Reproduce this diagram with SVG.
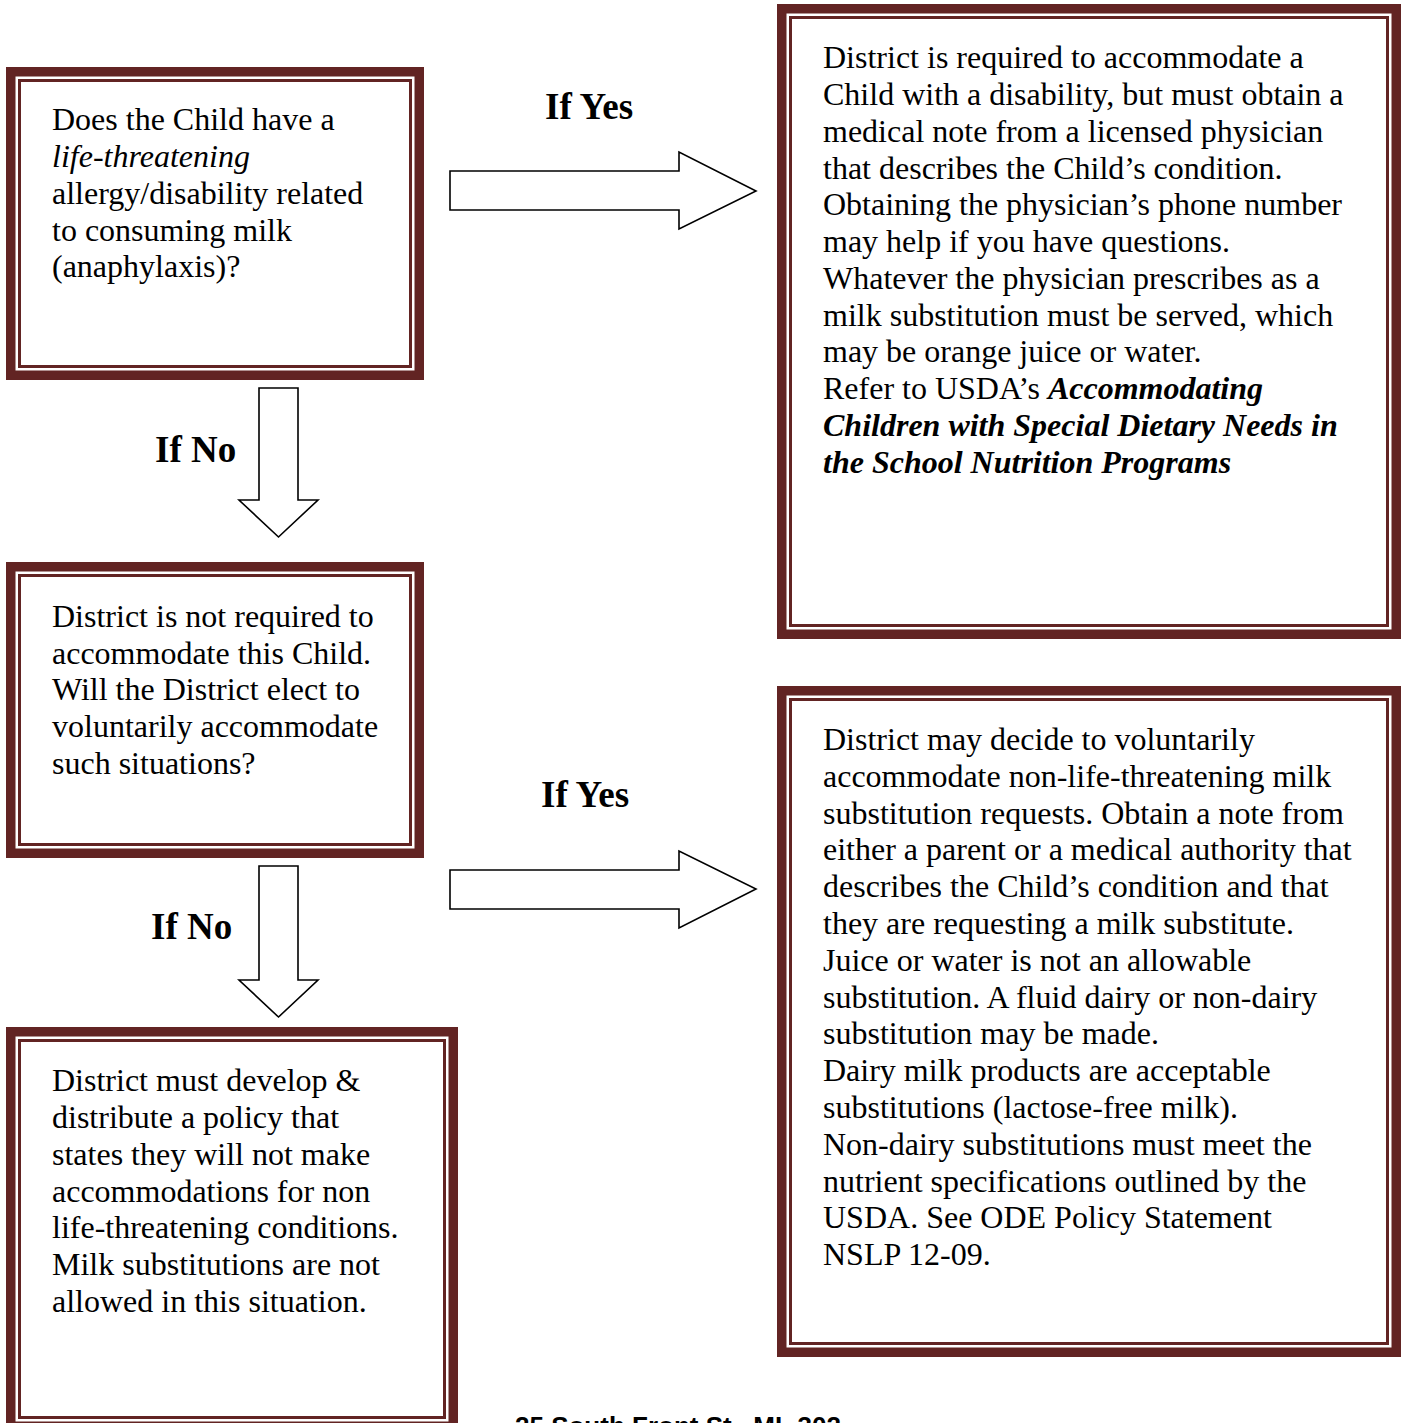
<svg xmlns="http://www.w3.org/2000/svg" width="1403" height="1423" viewBox="0 0 1403 1423">
<style>
.thick{fill:none;stroke:#622423;stroke-width:9.5}
.thin{fill:none;stroke:#622423;stroke-width:3}
.t{font-family:"Liberation Serif","Times New Roman",serif;font-size:32px;fill:#000}
.lbl{font-family:"Liberation Serif","Times New Roman",serif;font-size:37px;font-weight:bold;fill:#000}
.arr{fill:#fff;stroke:#000;stroke-width:1.6;stroke-linejoin:miter}
.bi{font-weight:bold;font-style:italic}
.foot{font-family:"Liberation Sans",Arial,sans-serif;font-size:26px;font-weight:bold;fill:#000}
</style>
<rect width="1403" height="1423" fill="#fff"/>
<g id="connectors">
  <polygon class="arr" points="450,171 679,171 679,152 756,191 679,229 679,210 450,210"/>
  <polygon class="arr" points="450,870 679,870 679,851 756,889 679,928 679,909 450,909"/>
  <polygon class="arr" points="259,388 298,388 298,500 318,500 278.5,537 239,500 259,500"/>
  <polygon class="arr" points="259,866 298,866 298,980 318,980 278.5,1017 239,980 259,980"/>
  <text class="lbl" x="545" y="119">If Yes</text>
  <text class="lbl" x="155" y="462">If No</text>
  <text class="lbl" x="541" y="807">If Yes</text>
  <text class="lbl" x="151" y="939">If No</text>
</g>
<g id="node-question1">
  <rect class="thick" x="10.75" y="71.75" width="408.5" height="303.5"/>
  <rect class="thin" x="19.5" y="80.5" width="391" height="286"/>
  <text class="t" x="52" y="130">Does the Child have a</text>
  <text class="t" x="52" y="167" font-style="italic">life-threatening</text>
  <text class="t" x="52" y="204">allergy/disability related</text>
  <text class="t" x="52" y="241">to consuming milk</text>
  <text class="t" x="52" y="277">(anaphylaxis)?</text>
</g>
<g id="node-required">
  <rect class="thick" x="781.75" y="8.75" width="614.5" height="625.5"/>
  <rect class="thin" x="790.5" y="17.5" width="597" height="608"/>
  <text class="t" x="823" y="68">District is required to accommodate a</text>
  <text class="t" x="823" y="105">Child with a disability, but must obtain a</text>
  <text class="t" x="823" y="142">medical note from a licensed physician</text>
  <text class="t" x="823" y="179">that describes the Child’s condition.</text>
  <text class="t" x="823" y="215">Obtaining the physician’s phone number</text>
  <text class="t" x="823" y="252">may help if you have questions.</text>
  <text class="t" x="823" y="289">Whatever the physician prescribes as a</text>
  <text class="t" x="823" y="326">milk substitution must be served, which</text>
  <text class="t" x="823" y="362">may be orange juice or water.</text>
  <text class="t" x="823" y="399">Refer to USDA’s <tspan class="bi">Accommodating</tspan></text>
  <text class="t bi" x="823" y="436">Children with Special Dietary Needs in</text>
  <text class="t bi" x="823" y="473">the School Nutrition Programs</text>
</g>
<g id="node-question2">
  <rect class="thick" x="10.75" y="566.75" width="408.5" height="286.5"/>
  <rect class="thin" x="19.5" y="575.5" width="391" height="269"/>
  <text class="t" x="52" y="627">District is not required to</text>
  <text class="t" x="52" y="664">accommodate this Child.</text>
  <text class="t" x="52" y="700">Will the District elect to</text>
  <text class="t" x="52" y="737">voluntarily accommodate</text>
  <text class="t" x="52" y="774">such situations?</text>
</g>
<g id="node-voluntary">
  <rect class="thick" x="781.75" y="690.75" width="614.5" height="661.5"/>
  <rect class="thin" x="790.5" y="699.5" width="597" height="644"/>
  <text class="t" x="823" y="750">District may decide to voluntarily</text>
  <text class="t" x="823" y="787">accommodate non-life-threatening milk</text>
  <text class="t" x="823" y="824">substitution requests. Obtain a note from</text>
  <text class="t" x="823" y="860">either a parent or a medical authority that</text>
  <text class="t" x="823" y="897">describes the Child’s condition and that</text>
  <text class="t" x="823" y="934">they are requesting a milk substitute.</text>
  <text class="t" x="823" y="971">Juice or water is not an allowable</text>
  <text class="t" x="823" y="1008">substitution. A fluid dairy or non-dairy</text>
  <text class="t" x="823" y="1044">substitution may be made.</text>
  <text class="t" x="823" y="1081">Dairy milk products are acceptable</text>
  <text class="t" x="823" y="1118">substitutions (lactose-free milk).</text>
  <text class="t" x="823" y="1155">Non-dairy substitutions must meet the</text>
  <text class="t" x="823" y="1192">nutrient specifications outlined by the</text>
  <text class="t" x="823" y="1228">USDA. See ODE Policy Statement</text>
  <text class="t" x="823" y="1265">NSLP 12-09.</text>
</g>
<g id="node-policy">
  <rect class="thick" x="10.75" y="1031.75" width="442.5" height="394.5"/>
  <rect class="thin" x="19.5" y="1040.5" width="425" height="377"/>
  <text class="t" x="52" y="1091">District must develop &amp;</text>
  <text class="t" x="52" y="1128">distribute a policy that</text>
  <text class="t" x="52" y="1165">states they will not make</text>
  <text class="t" x="52" y="1202">accommodations for non</text>
  <text class="t" x="52" y="1238">life-threatening conditions.</text>
  <text class="t" x="52" y="1275">Milk substitutions are not</text>
  <text class="t" x="52" y="1312">allowed in this situation.</text>
</g>
<text class="foot" x="515" y="1435">25 South Front St., ML 302</text>
</svg>
